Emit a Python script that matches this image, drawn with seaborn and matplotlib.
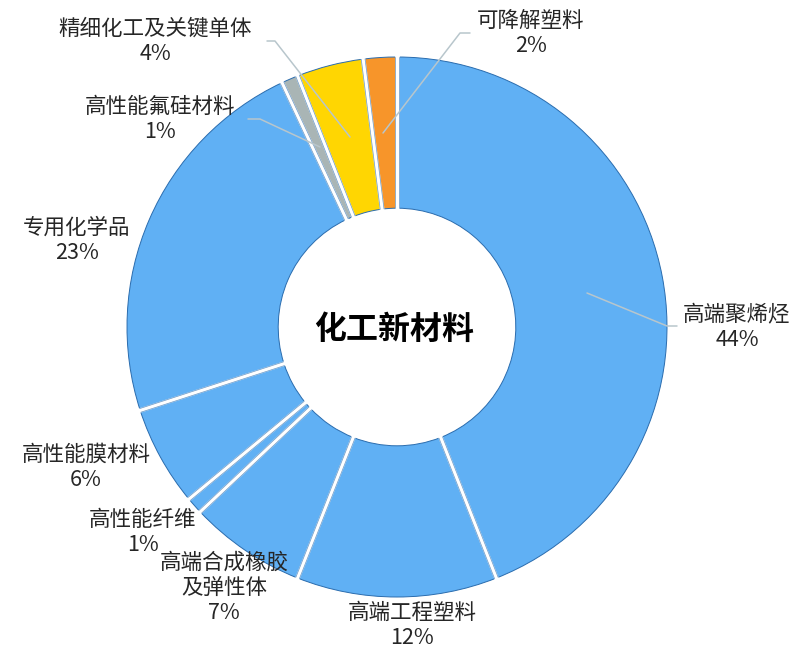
import numpy as np
import matplotlib
matplotlib.use("Agg")
import matplotlib.pyplot as plt
import seaborn as sns

# ---- data ----
categories = ["高端聚烯烃", "高端工程塑料", "高端合成橡胶\n及弹性体", "高性能纤维",
              "高性能膜材料", "专用化学品", "高性能氟硅材料", "精细化工及关键单体", "可降解塑料"]
values = [44, 12, 7, 1, 6, 23, 1, 4, 2]
colors = ["#60b0f4", "#60b0f4", "#60b0f4", "#60b0f4", "#60b0f4", "#60b0f4",
          "#a9b5b5", "#ffd602", "#f7952a"]
center_title = "化工新材料"

# ---- layout (pixels in an 800x659 canvas) ----
CX, CY, R = 397.0, 327.0, 270.0
RIN = 0.44
label_pos = [(737, 315), (412, 613), (224, 563), (143, 520), (86, 455),
             (77, 228), (160, 107), (155, 29), (531, 21)]
pitch = 25
leaders = {
    0: [(587, 293), (667, 326), (677, 326)],
    6: [(248, 119), (260, 119), (320, 147)],
    7: [(267, 41), (275, 41), (350, 137)],
    8: [(470, 33), (460, 33), (383, 133)],
}

sns.set_theme(style="white")
plt.rcParams["font.family"] = ["Noto Sans CJK SC", "DejaVu Sans"]


def P(x, y):
    return (x - CX) / R, (CY - y) / R


fig = plt.figure(figsize=(8, 6.59), dpi=100)
ax = fig.add_axes([0, 0, 1, 1])
wedges, _ = ax.pie(values, colors=colors, startangle=90, counterclock=False,
                   radius=1.0,
                   wedgeprops=dict(width=1 - RIN, edgecolor="#2a6cae", linewidth=0.7))

# white gaps between wedges with thin dark borders
off = 1.9 / R
for w in wedges:
    a = np.deg2rad(w.theta1)
    d = np.array([np.cos(a), np.sin(a)])
    n = np.array([-np.sin(a), np.cos(a)])
    r0, r1 = RIN - 0.006, 1.006
    ax.plot([r0 * d[0], r1 * d[0]], [r0 * d[1], r1 * d[1]], color="white",
            lw=3.4, solid_capstyle="butt", zorder=3)
    for s in (-1, 1):
        p0 = RIN * d + s * off * n
        p1 = 1.0 * d + s * off * n
        ax.plot([p0[0], p1[0]], [p0[1], p1[1]], color="#2a6cae", lw=0.5,
                alpha=0.7, zorder=3)

# leader lines
for i, pts in leaders.items():
    xs, ys = zip(*[P(x, y) for x, y in pts])
    ax.plot(xs, ys, color="#b8c6cc", lw=1.1, zorder=4)

# labels
for i, (name, v) in enumerate(zip(categories, values)):
    lines = name.split("\n") + [f"{v}%"]
    cx, cy = label_pos[i]
    for k, t in enumerate(lines):
        x, y = P(cx, cy + k * pitch)
        ax.text(x, y, t, ha="center", va="center", fontsize=15.5, color="#262626", zorder=5)

ax.text(*P(394, 330), center_title, ha="center", va="center", fontsize=23,
        fontweight="bold", color="black", zorder=5)

ax.set_aspect("auto")
ax.set_xlim((0 - CX) / R, (800 - CX) / R)
ax.set_ylim((CY - 659) / R, CY / R)
ax.axis("off")
fig.savefig("out.png", dpi=100, facecolor="white")
